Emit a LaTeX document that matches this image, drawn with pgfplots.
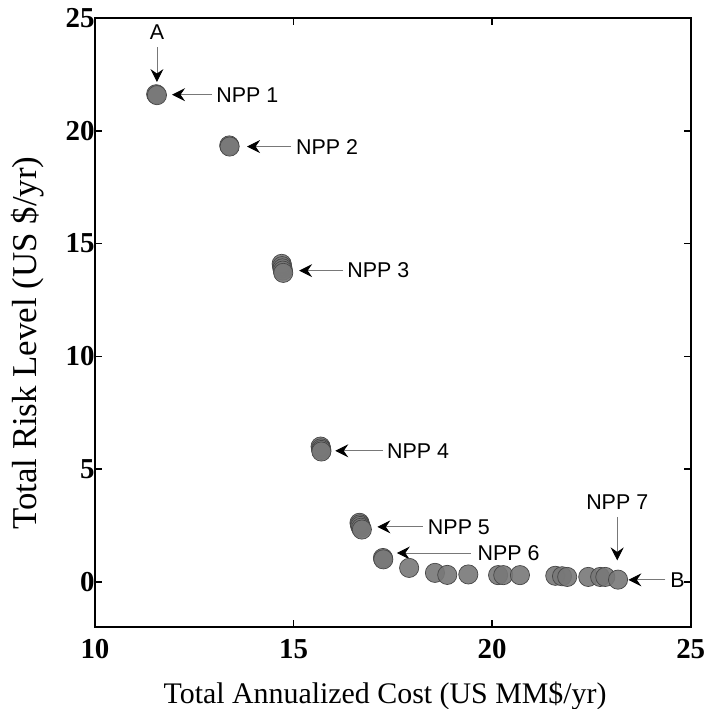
\documentclass[border=0pt]{standalone}
\usepackage{fontspec}
\setmainfont{Liberation Serif}
\newfontfamily\annfont{Liberation Sans}
\usepackage{pgfplots}
\pgfplotsset{compat=1.18}
\usetikzlibrary{arrows.meta}
\definecolor{dotfill}{RGB}{120,120,120}
\definecolor{dotedge}{RGB}{70,70,70}
\definecolor{arrline}{RGB}{120,120,120}
\tikzset{
  annot/.style={font=\annfont\fontsize{21.5}{21.5}\selectfont, inner sep=0pt},
  arr/.style={draw=arrline, line width=0.9bp, -{Stealth[black,length=13bp,width=13bp,inset=4.5bp]}},
}

\begin{document}
\begin{tikzpicture}
\path[use as bounding box] (-95bp,-82bp) rectangle (611.7bp,627bp);
\begin{axis}[
  scale only axis, width=595.7bp, height=609bp,
  xmin=10, xmax=25, ymin=-2, ymax=25,
  xtick={10,15,20,25}, ytick={0,5,10,15,20,25},
  axis line style={line width=2.4bp},
  major tick length=7bp,
  tick style={line width=1.6bp, black},
  /pgf/number format/assume math mode=true,
  tick label style={font=\fontsize{29}{29}\selectfont\bfseries},
  xticklabel style={yshift=-9bp},
  yticklabel style={xshift=3bp},
  xlabel={Total Annualized Cost (US MM\$/yr)},
  ylabel={Total Risk Level (US \$/yr)},
  xlabel style={font=\fontsize{30}{30}\selectfont, at={(axis description cs:0.487,-0.1248)}, anchor=base},
  ylabel style={font=\fontsize{35}{35}\selectfont, at={(axis description cs:-0.0974,0.466)}, anchor=base},
  clip=false,
]
\addplot[only marks, mark=*, mark size=9.6bp,
  mark options={fill=dotfill, draw=dotedge, line width=0.7bp, fill opacity=0.9}]
coordinates {
  (11.54,21.62)(11.56,21.58)
  (13.38,19.35)(13.39,19.30)
  (14.70,14.10)(14.71,14.00)(14.72,13.90)(14.73,13.80)(14.74,13.70)
  (15.68,6.00)(15.69,5.92)(15.70,5.85)(15.70,5.78)
  (16.66,2.62)(16.67,2.55)(16.68,2.48)(16.70,2.40)(16.72,2.32)
  (17.25,1.06)(17.26,1.00)
  (17.91,0.62)(18.56,0.40)(18.87,0.31)(19.40,0.33)
  (20.15,0.30)(20.28,0.30)(20.70,0.30)
  (21.59,0.27)(21.76,0.25)(21.89,0.22)
  (22.42,0.22)(22.72,0.22)(22.85,0.22)(23.17,0.10)
};
% annotations
\node[annot] at (axis cs:11.56,24.38) {A};
\draw[arr] (axis cs:11.56,23.71) -- (axis cs:11.56,22.16);
\draw[arr] (axis cs:12.95,21.6) -- (axis cs:11.94,21.6);
\node[annot, anchor=west] at (axis cs:13.05,21.6) {NPP 1};
\draw[arr] (axis cs:14.94,19.3) -- (axis cs:13.83,19.3);
\node[annot, anchor=west] at (axis cs:15.06,19.3) {NPP 2};
\draw[arr] (axis cs:16.25,13.8) -- (axis cs:15.14,13.8);
\node[annot, anchor=west] at (axis cs:16.35,13.8) {NPP 3};
\draw[arr] (axis cs:17.25,5.81) -- (axis cs:16.05,5.81);
\node[annot, anchor=west] at (axis cs:17.35,5.81) {NPP 4};
\draw[arr] (axis cs:18.25,2.44) -- (axis cs:17.11,2.44);
\node[annot, anchor=west] at (axis cs:18.38,2.44) {NPP 5};
\draw[arr] (axis cs:19.46,1.28) -- (axis cs:17.60,1.28);
\node[annot, anchor=west] at (axis cs:19.63,1.28) {NPP 6};
\node[annot] at (axis cs:23.15,3.55) {NPP 7};
\draw[arr] (axis cs:23.15,2.88) -- (axis cs:23.15,0.95);
\draw[arr] (axis cs:24.36,0.09) -- (axis cs:23.43,0.09);
\node[annot, anchor=west] at (axis cs:24.48,0.09) {B};
\end{axis}
\end{tikzpicture}
\end{document}
